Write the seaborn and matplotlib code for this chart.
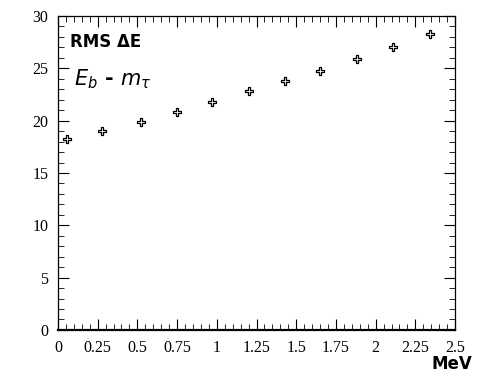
import matplotlib
matplotlib.use("Agg")
import matplotlib.pyplot as plt
import seaborn as sns
import pandas as pd
from matplotlib.ticker import MultipleLocator, FixedLocator

# ── data ──
beam_offset = [0.06, 0.28, 0.52, 0.75, 0.97, 1.20, 1.43, 1.65, 1.88, 2.11, 2.34]
rms_dE = [18.2, 19.0, 19.9, 20.8, 21.8, 22.8, 23.8, 24.7, 25.9, 27.0, 28.3]
x_ticks = [0, 0.25, 0.5, 0.75, 1, 1.25, 1.5, 1.75, 2, 2.25, 2.5]
x_labels = ["0", "0.25", "0.5", "0.75", "1", "1.25", "1.5", "1.75", "2", "2.25", "2.5"]
y_ticks = [0, 5, 10, 15, 20, 25, 30]

df = pd.DataFrame({"offset": beam_offset, "rms": rms_dE})

sns.set_theme(style="ticks")
plt.rcParams["font.family"] = ["Liberation Serif", "DejaVu Serif"]

fig = plt.figure(figsize=(4.79, 3.81), dpi=100)
ax = fig.add_axes([0.121, 0.134, 0.829, 0.824])

sns.scatterplot(
    data=df, x="offset", y="rms", ax=ax,
    marker="P", s=34, facecolor="white", edgecolor="black", linewidth=0.9,
)

ax.set_xlim(0, 2.5)
ax.set_ylim(0, 30)
ax.xaxis.set_major_locator(FixedLocator(x_ticks))
ax.set_xticklabels(x_labels)
ax.xaxis.set_minor_locator(MultipleLocator(0.05))
ax.yaxis.set_major_locator(FixedLocator(y_ticks))
ax.yaxis.set_minor_locator(MultipleLocator(1))
ax.tick_params(which="both", direction="in", top=True, right=True,
               labelsize=11.5, colors="black", pad=7)
ax.tick_params(which="major", length=8, width=0.8)
ax.tick_params(which="minor", length=4, width=0.6)
for sp in ax.spines.values():
    sp.set_linewidth(0.9)
    sp.set_color("black")
ax.spines["bottom"].set_linewidth(1.6)
ax.set_xlabel("")
ax.set_ylabel("")

hand = dict(family=["DejaVu Sans"], fontweight="bold", color="black")
ax.text(0.03, 0.945, "RMS ΔE", transform=ax.transAxes, fontsize=12, va="top", **hand)
ax.text(0.04, 0.835, r"$E_b$ - $m_\tau$", transform=ax.transAxes, fontsize=15, va="top", **hand)
fig.text(0.985, 0.02, "MeV", fontsize=12, ha="right", va="bottom", **hand)

fig.savefig("out.png", dpi=100, facecolor="white")
